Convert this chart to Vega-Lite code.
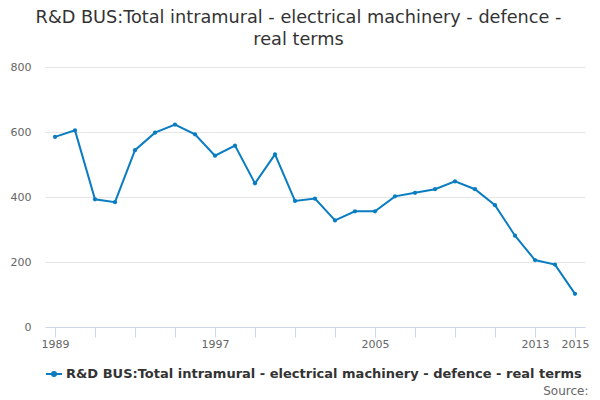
{
  "$schema": "https://vega.github.io/schema/vega-lite/v6.json",
  "autosize": "none",
  "width": 540,
  "height": 260,
  "padding": {"left": 45, "top": 67, "right": 15, "bottom": 73},
  "background": "#ffffff",
  "title": {
    "text": ["R&D BUS:Total intramural - electrical machinery - defence -", "real terms"],
    "anchor": "middle",
    "frame": "group",
    "dx": -16.5,
    "font": "DejaVu Sans",
    "fontSize": 17.7,
    "fontWeight": "normal",
    "color": "#333333",
    "lineHeight": 22,
    "offset": 12.5
  },
  "data": {
    "values": [
      {"year": 1989, "value": 585, "series": "R&D BUS:Total intramural - electrical machinery - defence - real terms"},
      {"year": 1990, "value": 605, "series": "R&D BUS:Total intramural - electrical machinery - defence - real terms"},
      {"year": 1991, "value": 393, "series": "R&D BUS:Total intramural - electrical machinery - defence - real terms"},
      {"year": 1992, "value": 384, "series": "R&D BUS:Total intramural - electrical machinery - defence - real terms"},
      {"year": 1993, "value": 544, "series": "R&D BUS:Total intramural - electrical machinery - defence - real terms"},
      {"year": 1994, "value": 598, "series": "R&D BUS:Total intramural - electrical machinery - defence - real terms"},
      {"year": 1995, "value": 623, "series": "R&D BUS:Total intramural - electrical machinery - defence - real terms"},
      {"year": 1996, "value": 593, "series": "R&D BUS:Total intramural - electrical machinery - defence - real terms"},
      {"year": 1997, "value": 527, "series": "R&D BUS:Total intramural - electrical machinery - defence - real terms"},
      {"year": 1998, "value": 558, "series": "R&D BUS:Total intramural - electrical machinery - defence - real terms"},
      {"year": 1999, "value": 442, "series": "R&D BUS:Total intramural - electrical machinery - defence - real terms"},
      {"year": 2000, "value": 531, "series": "R&D BUS:Total intramural - electrical machinery - defence - real terms"},
      {"year": 2001, "value": 388, "series": "R&D BUS:Total intramural - electrical machinery - defence - real terms"},
      {"year": 2002, "value": 395, "series": "R&D BUS:Total intramural - electrical machinery - defence - real terms"},
      {"year": 2003, "value": 328, "series": "R&D BUS:Total intramural - electrical machinery - defence - real terms"},
      {"year": 2004, "value": 356, "series": "R&D BUS:Total intramural - electrical machinery - defence - real terms"},
      {"year": 2005, "value": 356, "series": "R&D BUS:Total intramural - electrical machinery - defence - real terms"},
      {"year": 2006, "value": 402, "series": "R&D BUS:Total intramural - electrical machinery - defence - real terms"},
      {"year": 2007, "value": 413, "series": "R&D BUS:Total intramural - electrical machinery - defence - real terms"},
      {"year": 2008, "value": 424, "series": "R&D BUS:Total intramural - electrical machinery - defence - real terms"},
      {"year": 2009, "value": 448, "series": "R&D BUS:Total intramural - electrical machinery - defence - real terms"},
      {"year": 2010, "value": 424, "series": "R&D BUS:Total intramural - electrical machinery - defence - real terms"},
      {"year": 2011, "value": 375, "series": "R&D BUS:Total intramural - electrical machinery - defence - real terms"},
      {"year": 2012, "value": 281, "series": "R&D BUS:Total intramural - electrical machinery - defence - real terms"},
      {"year": 2013, "value": 206, "series": "R&D BUS:Total intramural - electrical machinery - defence - real terms"},
      {"year": 2014, "value": 192, "series": "R&D BUS:Total intramural - electrical machinery - defence - real terms"},
      {"year": 2015, "value": 102, "series": "R&D BUS:Total intramural - electrical machinery - defence - real terms"}
    ]
  },
  "mark": {"type": "line", "strokeWidth": 2, "point": {"filled": true, "size": 18}},
  "encoding": {
    "x": {
      "field": "year",
      "type": "quantitative",
      "scale": {"domain": [1988.5, 2015.5], "nice": false, "zero": false},
      "axis": {
        "title": "Source:",
        "titleFont": "DejaVu Sans",
        "titleFontSize": 12,
        "titleFontWeight": "normal",
        "titleColor": "#666666",
        "titleAnchor": "end",
        "titleAlign": "right",
        "titleBaseline": "alphabetic",
        "titleX": 543,
        "titleY": 67,
        "values": [1989, 1991, 1993, 1995, 1997, 1999, 2001, 2003, 2005, 2007, 2009, 2011, 2013, 2015],
        "labelExpr": "indexof([1989, 1997, 2005, 2013, 2015], datum.value) >= 0 ? toString(datum.value) : ''",
        "labelFont": "DejaVu Sans",
        "labelFontSize": 11,
        "labelColor": "#666666",
        "labelPadding": 1,
        "labelFlush": false,
        "labelOverlap": false,
        "grid": false,
        "domainColor": "#ccd6eb",
        "domainWidth": 1,
        "tickColor": "#ccd6eb",
        "tickSize": 10,
        "tickWidth": 1
      }
    },
    "y": {
      "field": "value",
      "type": "quantitative",
      "scale": {"domain": [0, 800], "nice": false},
      "axis": {
        "title": null,
        "values": [0, 200, 400, 600, 800],
        "labelFont": "DejaVu Sans",
        "labelFontSize": 11,
        "labelColor": "#666666",
        "labelPadding": 14,
        "domain": false,
        "ticks": false,
        "grid": true,
        "gridColor": "#e6e6e6",
        "gridWidth": 1
      }
    },
    "color": {
      "field": "series",
      "type": "nominal",
      "scale": {"range": ["#0a7cc1"]},
      "legend": {
        "title": null,
        "orient": "none",
        "legendX": 0,
        "legendY": 298,
        "padding": 0,
        "symbolType": "M-1,0H1M-0.25,0A0.25,0.25 0 1,1 0.25,0A0.25,0.25 0 1,1 -0.25,0",
        "symbolSize": 256,
        "symbolStrokeWidth": 2,
        "symbolFillColor": "#0a7cc1",
        "symbolStrokeColor": "#0a7cc1",
        "labelFont": "DejaVu Sans",
        "labelFontSize": 13,
        "labelFontWeight": "bold",
        "labelColor": "#333333",
        "labelLimit": 600,
        "labelOffset": 3
      }
    }
  },
  "config": {"view": {"stroke": null}}
}
